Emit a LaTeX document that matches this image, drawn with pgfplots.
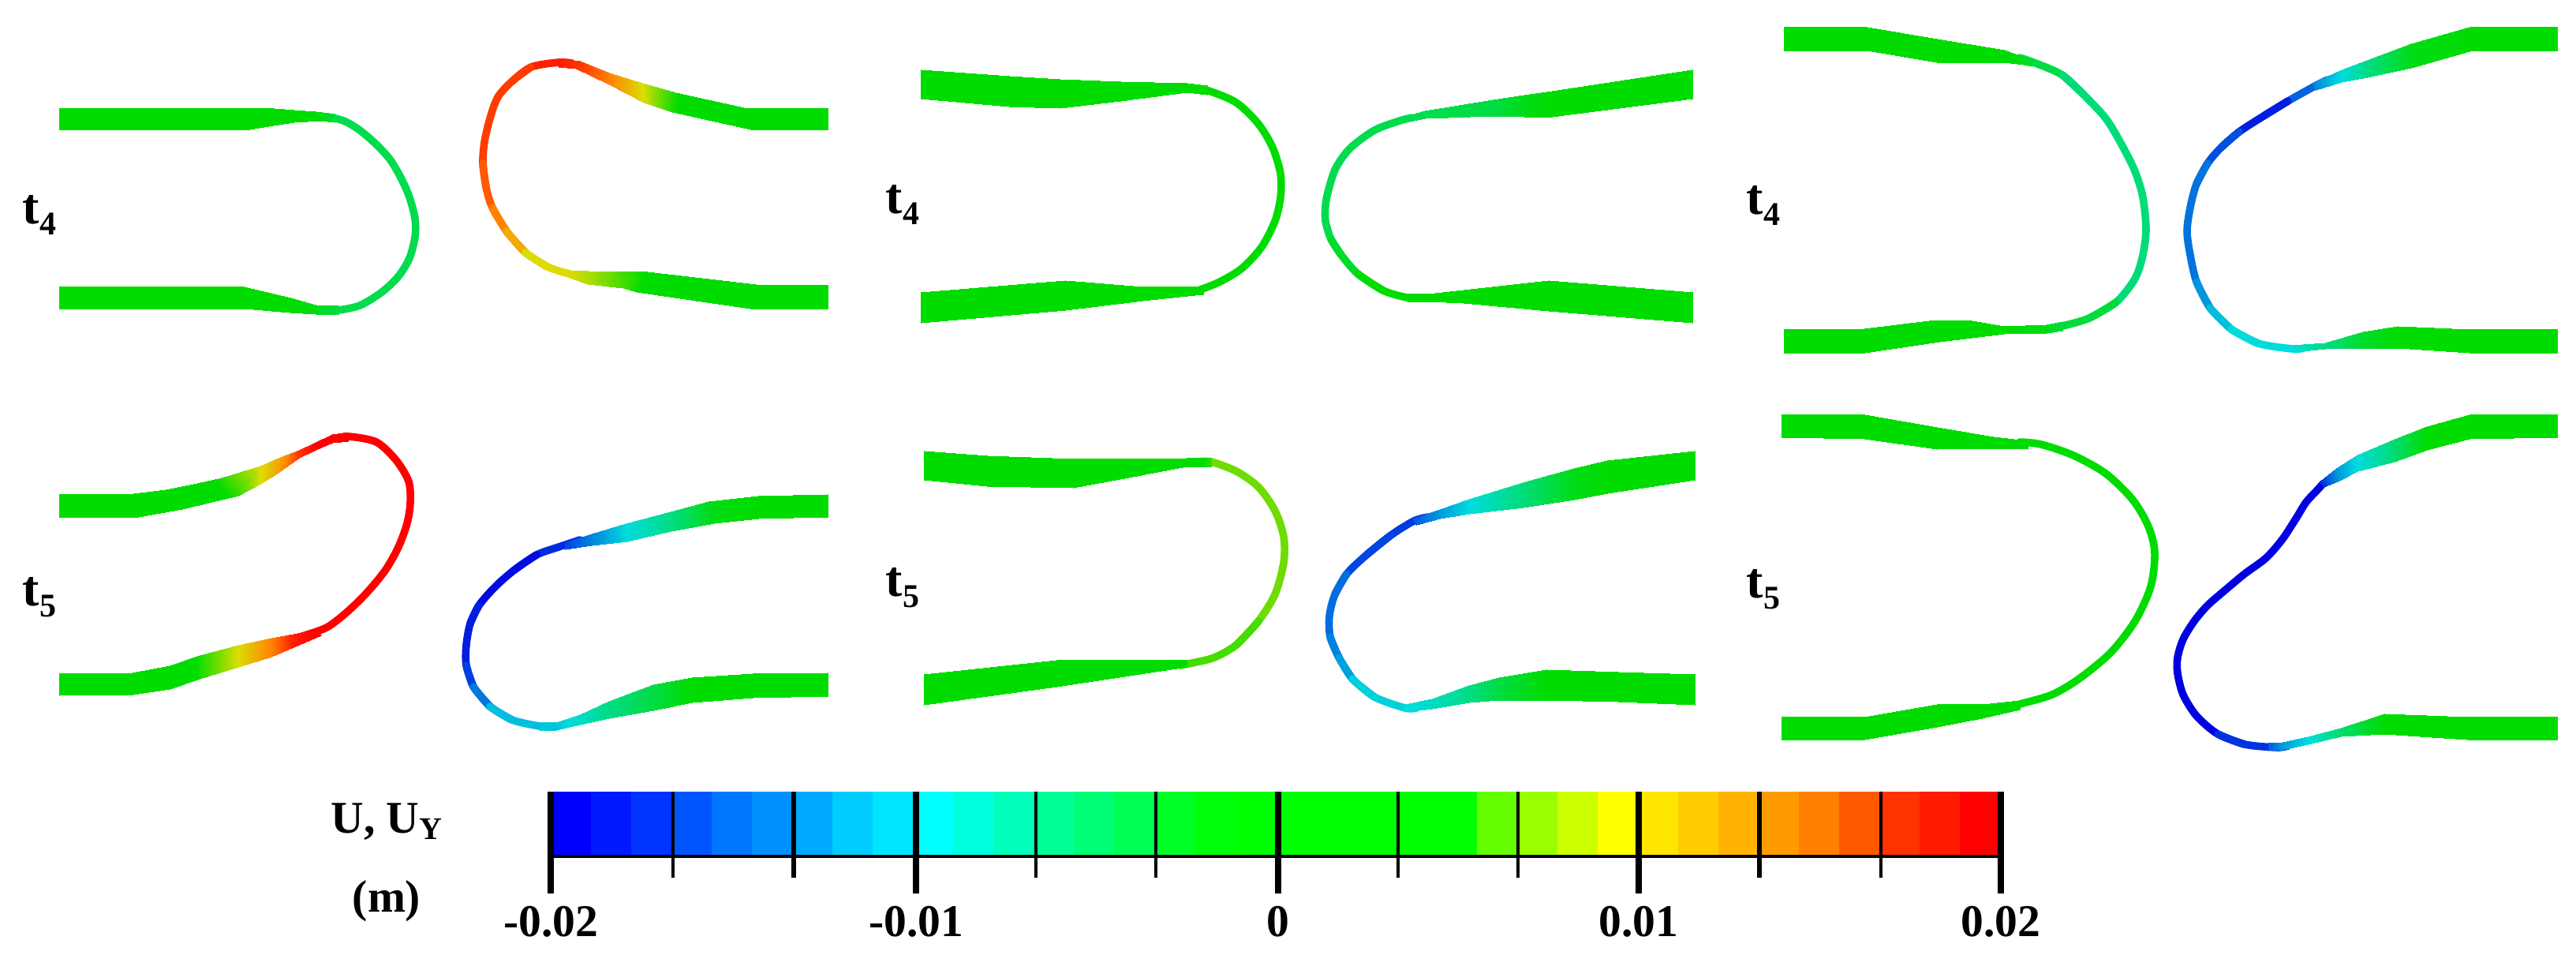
\documentclass[border=0pt]{standalone}
\usepackage{fontspec}
\setmainfont{Liberation Serif}
\usepackage{pgfplots}
\pgfplotsset{compat=1.18}
\pgfplotsset{
 strip/.style={surf,shader=interp,mesh/cols=2,point meta=explicit,forget plot},
}
\newcommand\lp[4]{\addplot[smooth,line width=2.4pt,line cap=round,line join=round,color={rgb,255:red,#1;green,#2;blue,#3},forget plot] coordinates {#4};}
\newcommand\band[4]{\addplot[draw=none,fill={rgb,255:red,#2;green,#3;blue,#4},forget plot] coordinates {(#1,1003)(2536,1003)(2536,1085)(#1,1085)} --cycle;}
\newcommand\tick[3]{\addplot[black,line width=#3,forget plot] coordinates {(#1,1003)(#1,#2)};}
\newcommand\tlab[3]{\node[anchor=base west,inner sep=0pt,font=\bfseries\fontsize{16}{18}\selectfont] at (axis cs:#1,#2) {t\raisebox{-3.5pt}{\fontsize{10.5}{11}\selectfont #3}};}
\begin{document}
\begin{tikzpicture}
\begin{axis}[hide axis,scale only axis,width=816.25pt,height=303.5pt,
 xmin=0,xmax=3265,ymin=0,ymax=1214,y dir=reverse,clip=false,
 point meta min=-20,point meta max=20,
 colormap={fe}{rgb255(0cm)=(0,0,225); rgb255(10cm)=(0,220,220); rgb255(20cm)=(0,220,0); rgb255(25cm)=(0,220,0); rgb255(30cm)=(220,220,0); rgb255(35cm)=(255,130,0); rgb255(40cm)=(255,0,0)}]
\path (axis cs:0,0) rectangle (axis cs:3265,1214);
% 1A t4 left
\lp{0}{220}{77}{(405,147)(421,149)(438,154)(456,165)(477,183)(495,203)(509,227)(519,250)(526,277)(526,300)(519,327)(505,350)(484,370)(456,387)(428,393)(410,393)}
\addplot[strip] coordinates {(75,137)[0](75,164)[0] (316,137)[0](316,164)[0] (347,137)[0](340,160)[0] (372,139)[0](372,155)[0] (400,141)[0](405,153)[0] (424,144)[-3](424,155)[-3]};
\addplot[strip] coordinates {(75,363)[0](75,391)[0] (309,363)[0](309,391)[0] (368,377)[0](368,396)[0] (400,386)[-1](400,398)[-1] (430,387)[-3](430,398)[-3]};
% 1B t4 right
\lp{255}{30}{0}{(725,80)(708,79)(673,85)(649,103)}
\lp{255}{60}{0}{(673,85)(649,103)(631,123)(621,150)(614,180)(612,207)(616,237)}
\lp{255}{90}{0}{(612,207)(616,237)(624,263)(642,293)}
\lp{255}{130}{0}{(624,263)(642,293)(666,320)}
\lp{240}{170}{0}{(642,293)(666,320)(694,338)}
\lp{220}{220}{0}{(666,320)(694,338)(722,347)(735,349)}
\addplot[strip] coordinates {(1049,137)[0](1049,164)[0] (947,137)[0](951,164)[0] (856,117)[5.5](852,142)[5.5] (814,105)[10](816,130)[10] (772,92)[15](772,107)[15] (735,77)[18](730,87)[18] (708,74)[19](708,85)[19]};
\addplot[strip] coordinates {(722,342)[10](722,352)[10] (745,343)[9](745,360)[9] (790,344)[6.5](790,365)[6.5] (820,344)[5](807,370)[5] (958,360)[0](951,391)[0] (1049,361)[0](1049,391)[0]};
% 2A t5 left
\lp{255}{0}{0}{(425,556)(442,553)(477,560)(502,583)(518,610)(520,637)(516,663)(505,693)(488,723)(463,753)(438,777)(414,795)(386,805)}
\addplot[strip] coordinates {(75,626)[0](75,655)[0] (125,626)[0](125,655)[0] (161,626)[0](175,655)[0] (210,620)[0](231,645)[0] (250,612)[3](268,636)[3] (281,605)[6](302,628)[6] (330,590)[10](330,613)[10] (355,579)[13](351,600)[13] (379,570)[18](379,580)[18] (400,560)[20](400,570)[20] (421,550)[20](421,561)[20] (442,547)[20](442,559)[20]};
\addplot[strip] coordinates {(75,853)[0](75,881)[0] (168,852)[0](168,880)[0] (215,843)[0](215,873)[0] (253,830)[5.5](253,860)[5.5] (302,817)[10](302,845)[10] (344,808)[15](344,832)[15] (372,803)[19](372,820)[19] (400,797)[20](407,805)[20]};
% 2B t5 right
\lp{0}{44}{224}{(735,684)(708,693)(680,703)(652,722)}
\lp{0}{10}{225}{(680,703)(652,722)(628,743)(607,767)(596,790)}
\lp{0}{30}{224}{(607,767)(596,790)(591,817)(591,843)(600,870)}
\lp{0}{66}{224}{(591,843)(600,870)(621,895)}
\lp{0}{120}{222}{(600,870)(621,895)(649,912)}
\lp{0}{190}{220}{(621,895)(649,912)(684,920)(700,921)}
\addplot[strip] coordinates {(1049,626)[0](1049,655)[0] (961,628)[0](961,657)[0] (898,635)[-1](905,663)[-1] (850,648)[-6](850,673)[-6] (793,663)[-10](795,686)[-10] (750,676)[-14](750,691)[-14] (716,687)[-17](716,696)[-17]};
\addplot[strip] coordinates {(1049,852)[0](1049,882)[0] (954,853)[0](954,884)[0] (877,858)[0](877,890)[0] (828,867)[-3](828,900)[-3] (772,888)[-6](772,910)[-6] (735,905)[-9](735,918)[-9] (705,915)[-11](705,925)[-11] (684,915)[-11](684,925)[-11]};
% 3A col2 t4 left
\lp{0}{220}{0}{(1515,112)(1532,115)(1567,130)(1595,157)(1613,187)(1623,220)(1623,250)(1616,280)(1599,313)(1574,340)(1546,357)(1518,368)(1505,369)}
\addplot[strip] coordinates {(1167,88)[0](1167,125)[0] (1279,96)[0](1279,135)[0] (1343,100)[0](1343,137)[0] (1420,103)[0](1420,128)[0] (1504,105)[0](1504,117)[0] (1530,108)[0](1530,120)[0]};
\addplot[strip] coordinates {(1167,370)[0](1167,409)[0] (1350,355)[0](1350,393)[0] (1448,363)[0](1448,381)[0] (1514,363)[0](1514,374)[0] (1525,362)[0](1525,373)[0]};
% 3B col2 t4 right
\lp{0}{220}{77}{(1790,149)(1774,153)(1742,165)(1711,188)(1693,213)(1684,240)(1680,260)(1680,280)(1687,303)(1700,323)}
\lp{0}{220}{44}{(1687,303)(1700,323)(1721,347)(1753,368)}
\lp{0}{220}{0}{(1721,347)(1753,368)(1784,377)(1812,378)}
\addplot[strip] coordinates {(2145,88)[0](2145,125)[0] (1967,115)[0](1967,148)[0] (1932,120)[-1](1932,148)[-1] (1892,126)[-3](1892,147)[-3] (1806,140)[-3.5](1806,150)[-3.5] (1770,150)[-3.5](1770,157)[-3.5]};
\addplot[strip] coordinates {(2145,370)[0](2145,409)[0] (1963,355)[0](1963,394)[0] (1855,367)[0](1855,384)[0] (1810,372)[0](1810,382)[0] (1784,372)[0](1784,382)[0]};
% 4A col2 t5 left
\lp{110}{220}{0}{(1520,585)(1535,585)(1567,597)(1595,617)(1616,647)(1627,680)(1627,713)(1616,753)(1595,787)(1567,817)}
\lp{70}{220}{0}{(1595,787)(1567,817)(1539,833)(1511,840)(1495,843)}
\addplot[strip] coordinates {(1171,571)[0](1171,608)[0] (1251,577)[0](1251,616)[0] (1360,581)[0](1360,618)[0] (1430,581)[0](1430,605)[0] (1504,580)[3](1504,591)[3] (1535,580)[6](1535,591)[6]};
\addplot[strip] coordinates {(1171,854)[0](1171,893)[0] (1339,836)[0](1339,870)[0] (1504,836)[3](1504,845)[3]};
% 4B col2 t5 right
\lp{0}{60}{224}{(1810,655)(1792,660)(1763,678)(1732,703)}
\lp{0}{70}{224}{(1763,678)(1732,703)(1707,727)(1692,753)}
\lp{0}{110}{222}{(1707,727)(1692,753)(1685,780)(1686,807)(1697,833)}
\lp{0}{130}{222}{(1686,807)(1697,833)(1714,860)}
\lp{0}{160}{221}{(1697,833)(1714,860)(1742,883)}
\lp{0}{210}{220}{(1714,860)(1742,883)(1781,897)(1795,897)}
\addplot[strip] coordinates {(2148,571)[0](2148,608)[0] (2037,583)[0](2037,625)[0] (1995,593)[-1](1995,633)[-1] (1930,611)[-5.5](1930,643)[-5.5] (1862,632)[-10](1862,651)[-10] (1825,645)[-13](1825,657)[-13] (1790,657)[-16](1795,665)[-16]};
\addplot[strip] coordinates {(2148,854)[0](2148,893)[0] (2051,851)[0](2051,889)[0] (1960,848)[0](1960,887)[0] (1900,858)[-3](1900,887)[-3] (1862,868)[-6](1862,890)[-6] (1815,885)[-9](1815,898)[-9] (1781,892)[-10](1781,902)[-10]};
% 5A col3 t4 left
\lp{0}{220}{70}{(2560,73)(2580,80)(2614,95)(2641,120)}
\lp{0}{220}{120}{(2614,95)(2641,120)(2669,150)(2689,183)(2706,217)(2716,250)(2720,290)(2716,323)(2706,353)(2682,383)(2648,403)}
\lp{0}{220}{60}{(2682,383)(2648,403)(2614,413)(2595,416)}
\addplot[strip] coordinates {(2261,34)[0](2261,64)[0] (2366,34)[0](2366,64)[0] (2455,49)[0](2455,79)[0] (2540,63)[0](2540,79)[0] (2565,72)[-1](2565,82)[-1] (2580,76)[-3](2575,84)[-3]};
\addplot[strip] coordinates {(2261,417)[0](2261,447)[0] (2363,416)[0](2363,447)[0] (2445,406)[0](2458,433)[0] (2499,406)[0](2499,428)[0] (2540,413)[0](2540,423)[0] (2594,411)[-1](2594,422)[-1] (2614,407)[-3](2614,419)[-3]};
% 5B col3 t4 right
\lp{0}{100}{223}{(2950,101)(2934,109)(2900,128)(2869,147)}
\lp{0}{30}{224}{(2900,128)(2869,147)(2838,167)(2815,187)}
\lp{0}{80}{223}{(2838,167)(2815,187)(2798,207)(2784,233)}
\lp{0}{115}{222}{(2798,207)(2784,233)(2776,263)(2772,293)(2776,323)(2784,357)(2801,390)}
\lp{0}{150}{221}{(2784,357)(2801,390)(2828,417)}
\lp{0}{190}{220}{(2801,390)(2828,417)(2862,435)}
\lp{0}{220}{220}{(2828,417)(2862,435)(2906,442)(2920,441)}
\addplot[strip] coordinates {(3241,34)[0](3241,64)[0] (3130,34)[0](3130,65)[0] (3056,55)[-1](3056,86)[-1] (3000,76)[-6](3000,98)[-6] (2968,88)[-10](2968,104)[-10] (2930,105)[-14](2935,114)[-14]};
\addplot[strip] coordinates {(3241,417)[0](3241,447)[0] (3130,417)[0](3130,447)[0] (3039,413)[0](3039,441)[0] (2995,420)[-2](2995,441)[-2] (2947,434)[-6](2947,442)[-6] (2906,437)[-10](2906,446)[-10]};
% 6A col3 t5 left
\lp{0}{220}{0}{(2560,560)(2587,563)(2628,577)(2669,600)(2703,633)(2723,667)(2731,700)(2726,743)(2706,787)(2675,827)(2635,860)(2601,880)(2560,892)(2545,896)}
\addplot[strip] coordinates {(2258,525)[0](2258,554)[0] (2363,525)[0](2363,556)[0] (2455,541)[0](2455,569)[0] (2526,553)[0](2526,568)[0] (2570,558)[0](2570,569)[0]};
\addplot[strip] coordinates {(2258,908)[0](2258,937)[0] (2363,908)[0](2363,937)[0] (2455,892)[0](2455,921)[0] (2512,892)[0](2512,910)[0] (2560,887)[0](2560,899)[0]};
% 6B col3 t5 right
\lp{0}{0}{225}{(2945,612)(2936,622)(2923,636)(2910,657)(2893,683)(2872,707)(2845,727)(2821,747)(2798,767)(2781,787)(2767,810)(2760,833)(2760,853)(2767,880)(2784,907)(2811,930)(2845,943)}
\lp{0}{50}{224}{(2811,930)(2845,943)(2886,947)(2900,945)}
\addplot[strip] coordinates {(3241,525)[0](3241,554)[0] (3130,525)[0](3130,556)[0] (3076,540)[0](3076,570)[0] (3035,556)[-5](3035,585)[-5] (2988,576)[-10](2988,597)[-10] (2961,593)[-13](2965,609)[-13] (2940,610)[-18](2945,617)[-18]};
\addplot[strip] coordinates {(3241,908)[0](3241,937)[0] (3127,908)[0](3127,937)[0] (3022,904)[0](3022,930)[0] (2967,922)[-5](2967,933)[-5] (2925,933)[-10](2925,943)[-10] (2893,940)[-13](2893,950)[-13] (2875,941)[-16](2875,951)[-16]};
% colour bar
\band{698}{0}{0}{255}\band{749}{0}{26}{255}\band{800}{0}{51}{255}\band{851}{0}{85}{255}\band{902}{0}{119}{255}\band{953}{0}{145}{255}\band{1004}{0}{170}{255}\band{1055}{0}{204}{255}\band{1106}{0}{230}{255}
\band{1157}{0}{255}{255}\band{1208}{0}{255}{221}\band{1259}{0}{255}{187}\band{1310}{0}{255}{153}\band{1361}{0}{255}{119}\band{1412}{0}{255}{85}\band{1463}{0}{255}{40}\band{1514}{0}{255}{10}\band{1565}{0}{255}{0}
\band{1872}{102}{255}{0}\band{1923}{153}{255}{0}\band{1974}{204}{255}{0}\band{2025}{255}{255}{0}\band{2076}{255}{230}{0}\band{2127}{255}{204}{0}\band{2178}{255}{179}{0}\band{2229}{255}{153}{0}\band{2280}{255}{128}{0}\band{2331}{255}{89}{0}\band{2382}{255}{51}{0}\band{2433}{255}{26}{0}\band{2484}{255}{0}{0}
\addplot[black,line width=1pt,forget plot] coordinates {(698,1085)(2536,1085)};
\tick{698}{1132}{2pt}\tick{1161}{1132}{2pt}\tick{1620}{1132}{2pt}\tick{2077}{1132}{2pt}\tick{2536}{1132}{2pt}
\tick{853}{1112}{0.8pt}\tick{1006}{1112}{1.3pt}\tick{1313}{1112}{0.8pt}\tick{1465}{1112}{0.8pt}\tick{1772}{1112}{0.8pt}\tick{1924}{1112}{0.8pt}\tick{2230}{1112}{1.3pt}\tick{2384}{1112}{0.8pt}
\begin{scope}[every node/.style={font=\bfseries\fontsize{14.4}{16}\selectfont,inner sep=0pt,anchor=base}]
\node at (axis cs:698,1186) {-0.02};
\node at (axis cs:1161,1186) {-0.01};
\node at (axis cs:1620,1186) {0};
\node at (axis cs:2077,1186) {0.01};
\node at (axis cs:2536,1186) {0.02};
\node at (axis cs:490,1055) {U, U\raisebox{-2pt}{\fontsize{10}{11}\selectfont Y}};
\node at (axis cs:490,1155) {(m)};
\end{scope}
\tlab{28}{283}{4}\tlab{28}{767}{5}\tlab{1122}{270}{4}\tlab{1122}{755}{5}\tlab{2213}{271}{4}\tlab{2213}{757}{5}
\end{axis}
\end{tikzpicture}
\end{document}
